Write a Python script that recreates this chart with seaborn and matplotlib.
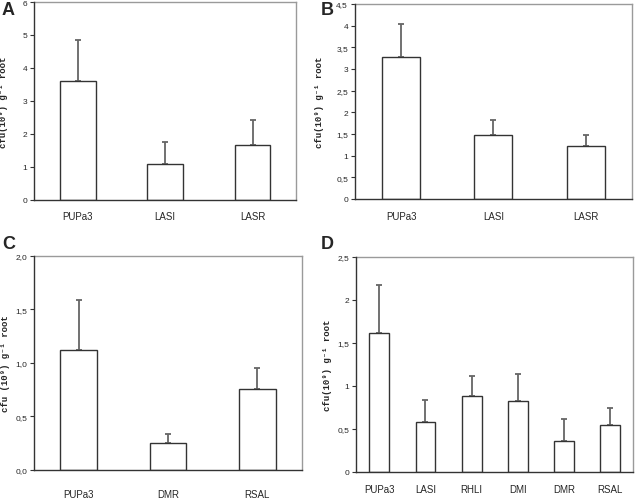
import numpy as np
import pandas as pd
import matplotlib
matplotlib.use("Agg")
import matplotlib.pyplot as plt
import seaborn as sns

sns.set_style("white")
plt.rcParams['font.family'] = ['Liberation Sans', 'DejaVu Sans']

# data: bar means and upper error bar ends
a_names = ["PUPa3", "LASI", "LASR"]
a_mean = [3.6, 1.1, 1.65]
a_top = [4.85, 1.75, 2.42]

b_names = ["PUPa3", "LASI", "LASR"]
b_mean = [3.27, 1.47, 1.21]
b_top = [4.04, 1.82, 1.47]

c_names = ["PUPa3", "DMR", "RSAL"]
c_mean = [1.12, 0.25, 0.76]
c_top = [1.59, 0.34, 0.95]

d_names = ["PUPa3", "LASI", "RHLI", "DMI", "DMR", "RSAL"]
d_mean = [1.62, 0.58, 0.88, 0.82, 0.36, 0.55]
d_top = [2.18, 0.84, 1.12, 1.14, 0.61, 0.74]

a_ticks = [0, 1, 2, 3, 4, 5, 6]
a_ticklabels = ["0", "1", "2", "3", "4", "5", "6"]
b_ticks = [0, 0.5, 1, 1.5, 2, 2.5, 3, 3.5, 4, 4.5]
b_ticklabels = ["0", "0,5", "1", "1,5", "2", "2,5", "3", "3,5", "4", "4,5"]
c_ticks = [0, 0.5, 1.0, 1.5, 2.0]
c_ticklabels = ["0,0", "0,5", "1,0", "1,5", "2,0"]
d_ticks = [0, 0.5, 1, 1.5, 2, 2.5]
d_ticklabels = ["0", "0,5", "1", "1,5", "2", "2,5"]

lab_ab = "cfu(10\u2079) g\u207b\u00b9 root"
lab_c = "cfu (10\u2079) g\u207b\u00b9 root"

fig = plt.figure(figsize=(6.35, 5.02), dpi=100)

# letter, axes rect, names, means, tops, yticks, yticklabels, ylabel, bar width,
# letter position, ylabel x (axes coords), xtick pad
panels = [
    ("A", [0.0535, 0.600, 0.413, 0.394], a_names, a_mean, a_top, a_ticks, a_ticklabels, lab_ab, 0.41, (0.003, 0.980), -0.099, 8),
    ("B", [0.559, 0.602, 0.436, 0.388], b_names, b_mean, b_top, b_ticks, b_ticklabels, lab_ab, 0.41, (0.505, 0.980), -0.112, 9),
    ("C", [0.0535, 0.062, 0.422, 0.426], c_names, c_mean, c_top, c_ticks, c_ticklabels, lab_c, 0.41, (0.003, 0.512), -0.090, 13.5),
    ("D", [0.561, 0.058, 0.436, 0.428], d_names, d_mean, d_top, d_ticks, d_ticklabels, lab_ab, 0.43, (0.505, 0.512), -0.087, 8.5),
]

for letter, pos, names, mean, top, ticks, ticklabels, ylab, bw, lpos, labx, xpad in panels:
    ax = fig.add_axes(pos)
    df = pd.DataFrame({"strain": names, "cfu": mean})
    sns.barplot(data=df, x="strain", y="cfu", ax=ax, color="white",
                edgecolor="#333333", linewidth=1.0, width=bw, errorbar=None, zorder=3)
    err = np.array(top) - np.array(mean)
    ax.errorbar(np.arange(len(names)), mean, yerr=[np.zeros(len(names)), err],
                fmt="none", ecolor="#666666", elinewidth=1.3, capsize=2.5, capthick=1.3, zorder=2)
    n = len(names)
    ax.set_xlim(-0.5, n - 0.5)
    ax.set_ylim(ticks[0], ticks[-1])
    ax.set_yticks(ticks)
    ax.set_yticklabels(ticklabels, fontsize=6)
    ax.set_xticks(np.arange(n))
    ax.set_xticklabels(names, fontsize=7)
    ax.set_xticks(np.arange(n + 1) - 0.5, minor=True)
    ax.tick_params(axis="x", which="major", length=0, pad=xpad)
    ax.tick_params(axis="x", which="minor", length=4, width=0.8, color="#333333", direction="out")
    ax.tick_params(axis="y", length=3, width=0.8, color="#333333", direction="out", pad=2, left=True)
    ax.set_xlabel("")
    ax.set_ylabel(ylab, fontsize=6.5, fontweight="bold",
                  family=["Liberation Mono", "DejaVu Sans Mono"])
    ax.yaxis.set_label_coords(labx, 0.5)
    for side in ["left", "bottom"]:
        ax.spines[side].set_color("#333333")
        ax.spines[side].set_linewidth(1.0)
        ax.spines[side].set_zorder(4)
    for side in ["top", "right"]:
        ax.spines[side].set_color("#9a9a9a")
        ax.spines[side].set_linewidth(1.0)
    fig.text(lpos[0], lpos[1], letter, fontsize=13, fontweight="bold", va="center", ha="left")

fig.savefig("out.png", dpi=100)
